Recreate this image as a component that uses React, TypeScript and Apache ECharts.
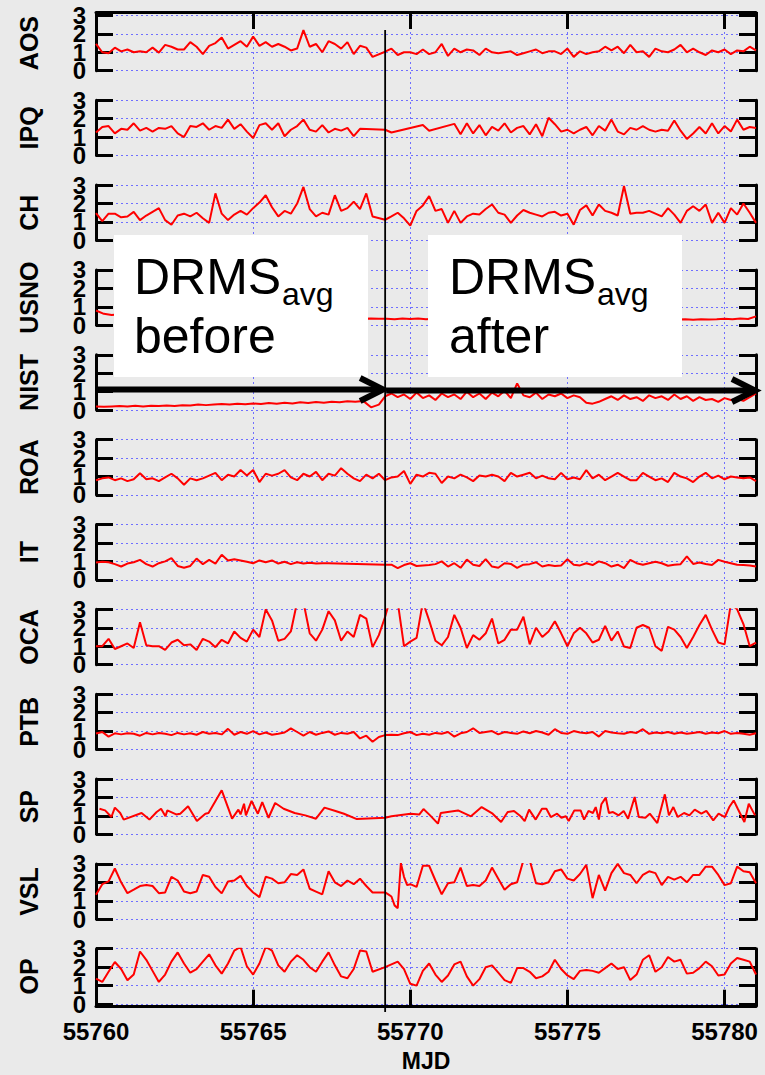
import React, { useEffect, useRef } from "react";
import * as echarts from "echarts";

// [start offset in days from X_MIN, step in days, values]
type Seg = [number, number, number[]];

const X_MIN = 55760;
const X_MAX = 55781;
const X_INTERVAL = 5;
const Y_MIN = 0;
const Y_MAX = 3;
const Y_LABELS_EVEN = [0, 2];
const Y_LABELS_ODD = [1, 3];
const STEP_MJD = 55769.2;
const X_NAME = "MJD";
const STATIONS = ["AOS", "IPQ", "CH", "USNO", "NIST", "ROA", "IT", "OCA", "PTB", "SP", "VSL", "OP"];
const BOX_TITLE = "DRMS";
const BOX_SUB = "avg";
const BOX_LEFT_WORD = "before";
const BOX_RIGHT_WORD = "after";

const AOS_A = [1.45,1.0,0.95,1.25,1.05, 1.15,1.0,1.05,1.0,1.25, 0.98,1.4,1.3,1.15,1.15, 1.55,1.3,0.9,1.35,1.5, 1.8,1.2,1.4,1.6,1.3, 1.85,1.35,1.55,1.3,1.45, 1.3,1.1,1.2,2.2,1.3, 1.45,1.0,1.6,1.45,1.2, 1.55,0.9,1.35,1.25,0.75];
const AOS_B = [1.03,1.2,0.85,1.0,1.0, 0.9,1.15,0.9,1.0,1.45, 0.8,1.2,1.0,1.15,1.1, 0.85,1.2,1.0,0.95,1.0, 1.05,0.85,0.95,1.05,1.15, 0.95,1.05,1.05,0.9,1.2, 0.75,1.05,0.9,1.0,1.05, 1.3,1.1,1.3,0.95,1.4, 1.0,1.05,0.75,1.2,1.05, 1.0,1.15,1.4,1.0,1.2, 1.0,0.85,1.1,1.0,1.15, 0.9,1.1,1.05,1.3,1.1];

const IPQ_A = [1.25,1.55,1.6,1.2,1.45, 1.4,1.75,1.35,1.5,1.3, 1.5,1.45,1.6,1.2,1.0, 1.6,1.55,1.75,1.4,1.6, 1.5,1.95,1.45,1.7,1.3, 0.95,1.65,1.75,1.4,1.75, 1.05,1.4,1.6,1.95,1.4, 1.3,1.65,1.25,1.45,1.35, 1.5,1.05,1.45];
const IPQ_GAP1 = [1.4, 1.25];
const IPQ_GAP2 = [1.66, 1.35];
const IPQ_B = [1.72,1.15,1.75,1.2,1.65, 1.1,1.55,1.35,1.75,1.25, 1.5,1.6,1.15,1.7,1.05, 2.05,1.7,1.3,1.4,1.2, 1.4,1.55,1.1,1.6,1.35, 1.95,1.3,1.15,1.5,1.4, 1.6,1.4,1.3,1.4,1.35, 1.9,1.35,0.9,1.2,1.55, 1.2,1.75,1.2,1.6,1.3, 1.95,1.4,1.55,1.5];

const CH_A = [1.48,1.05,1.45,1.45,1.25, 1.3,1.55,1.1,1.35,1.55, 1.75,1.1,0.85,1.35,1.45, 1.3,1.5,1.2,0.95,2.55, 1.45,1.1,1.4,1.6,1.4, 1.75,2.05,2.45,1.8,1.3, 1.6,1.45,2.0,2.9,1.7, 1.3,1.5,1.4,2.45,1.6, 1.75,2.1,1.7,2.55,1.3];
const CH_B = [1.12,1.3,1.5,1.2,0.8, 1.6,1.9,2.4,1.6,1.7, 0.95,1.6,0.95,1.3,1.45, 1.4,1.7,1.95,1.5,1.4, 0.95,1.35,1.65,1.5,1.4, 1.3,1.5,1.55,1.35,1.45, 0.85,1.65,1.9,1.35,1.95, 1.6,1.5,1.35,2.95,1.45, 1.5,1.5,1.6,1.45,1.3, 1.75,1.4,0.95,1.6,1.85, 1.6,1.95,0.95,1.5,0.95, 1.75,1.4,2.0,1.5,0.95];

const USNO_A = [0.8,0.62,0.55,0.6,0.5, 0.52,0.48,0.5,0.46,0.48, 0.45,0.47,0.44,0.46,0.42, 0.44,0.42,0.43,0.4,0.42, 0.4,0.41,0.39,0.4,0.38, 0.4,0.38,0.39,0.37,0.38, 0.36,0.37,0.36,0.36,0.35, 0.36,0.35,0.35,0.33,0.36, 0.34,0.37,0.33,0.35,0.34, 0.33,0.35,0.33,0.34,0.32, 0.35,0.33,0.34,0.32,0.33, 0.34,0.32,0.33,0.35,0.32, 0.34,0.33,0.32,0.34,0.33, 0.31,0.33,0.32,0.34,0.31, 0.33,0.32,0.3,0.33,0.31, 0.32,0.3,0.33,0.31,0.32, 0.35,0.33,0.36,0.34,0.48];

const NIST_A = [0.2,0.18,0.2,0.22,0.2, 0.23,0.2,0.24,0.22,0.25, 0.22,0.26,0.25,0.3,0.27, 0.3,0.33,0.3,0.35,0.32, 0.36,0.33,0.38,0.35,0.4, 0.36,0.42,0.38,0.44,0.4, 0.45,0.42,0.48,0.45,0.5, 0.15,0.3];
const NIST_B = [0.75,0.9,0.7,0.85,0.6, 0.95,0.65,0.8,0.55,0.9, 0.7,0.85,0.6,1.0,0.7, 0.9,0.6,0.95,0.75,1.05, 0.65,1.45,0.8,0.7,0.95, 0.6,0.85,0.75,0.9,0.65, 0.8,0.7,0.4,0.35,0.45, 0.6,0.75,0.55,0.8,0.6, 0.7,0.5,0.8,0.65,0.75, 0.55,0.85,0.6,0.75,0.5, 0.7,0.55,0.6,0.45,0.65, 0.55,0.6,0.5,0.7,0.9];

const ROA_A = [0.8,0.9,0.95,0.8,0.9, 0.75,0.85,1.18,0.85,0.9, 0.75,0.95,1.15,0.9,0.55, 0.9,0.8,0.9,1.05,1.2, 0.8,1.1,1.0,1.35,1.05, 1.35,0.7,1.15,1.05,1.15, 1.35,0.95,0.8,1.15,1.0, 1.25,0.8,1.15,1.05,1.45, 1.15,0.9,0.75,1.1,0.9, 1.15,0.8,0.95,1.0,1.3, 0.6,1.1,1.0,1.2,1.15, 0.65,1.0,0.9,1.1,0.95, 0.75,1.05,1.0,1.1,1.0, 0.75,1.2,1.0,1.1,1.2, 0.9,1.05,0.9,0.85,1.2, 0.85,0.95,0.85,1.35,0.9, 1.1,0.8,1.0,1.2,1.0, 0.8,0.8,1.2,1.0,0.8, 0.9,0.7,1.2,1.0,0.9, 0.7,1.0,1.2,0.9,1.05, 0.85,1.0,0.95,0.9,0.95, 0.75];

const IT_A = [0.94,0.98,0.95,0.85,0.72, 0.88,0.95,1.08,0.85,0.72, 0.9,1.0,1.18,0.75,0.65, 0.75,1.15,0.85,1.08,0.88, 1.36,1.05,1.12,1.05,0.98, 0.9,1.05,0.95,1.05,0.88, 0.98,0.85,0.95,0.88,0.92, 0.88,0.9,0.9];
const IT_B = [0.81,0.82,0.63,0.8,0.9, 0.75,0.78,0.8,0.85,1.0, 0.72,0.9,0.65,1.1,0.82, 0.75,1.12,0.72,0.65,0.9, 0.86,0.65,0.82,0.85,0.95, 0.72,0.8,0.75,0.78,1.12, 0.82,0.78,0.9,0.8,1.0, 0.9,0.72,0.82,0.63,1.08, 0.9,0.82,0.9,0.98,0.9, 0.76,0.82,0.85,1.27,0.86, 0.94,0.86,0.8,1.08,0.98, 0.9,0.82,0.8,0.78,0.72];

const OCA_A = [1.0,1.0,1.4,0.85,1.0, 1.15,0.9,2.3,1.05,1.0, 1.0,0.8,1.2,1.35,1.05, 1.1,0.8,1.4,1.25,0.95, 1.35,1.15,1.8,1.45,1.25, 1.9,1.5,3.0,2.4,1.3, 1.4,1.8,3.4,3.4,1.7, 1.3,1.9,2.9,2.4,1.3, 1.8,1.5,2.7,2.5,0.95, 1.6,2.6,3.8,3.4,1.0, 1.25,1.45,3.4,2.4,1.3, 1.05,1.5,2.7,2.0,0.9, 1.6,1.35,1.7,2.5,1.15, 1.35,1.9,1.9,2.6,1.1, 2.0,1.5,1.8,2.35,1.7, 1.0,1.7,2.0,1.7,1.2, 1.35,2.1,1.3,1.8,0.98, 0.9,2.0,2.15,2.0,1.0, 0.75,2.05,1.9,1.5,0.9, 1.5,2.15,2.7,1.9,1.2, 1.1,3.3,3.0,2.2,1.0,1.2];

const PTB_A = [0.87,0.95,0.7,0.88,0.82, 0.88,0.85,0.75,0.9,0.82, 0.9,0.85,0.78,0.9,0.82, 0.88,0.8,0.95,0.85,0.9, 0.82, 1.12,0.8,0.95,0.85,1.0, 0.82,0.92,0.8,0.85,0.92, 1.15,0.95,0.75,0.95,0.8, 0.9,0.98,0.8,0.9,0.85, 0.95,0.6,0.75,0.42,0.68,0.78, 0.8,0.78,0.88,0.95,0.78, 0.85,0.8,0.9,0.85,0.95, 0.7,0.88,0.95,1.15,0.9, 0.95,1.0,0.82,0.95,0.9, 0.85,0.98,0.88,1.0,0.92, 0.8,1.1,0.9,0.85,1.0, 0.92,0.88,0.95,0.7,1.0, 0.92,0.88,0.85,0.95,0.9, 1.1,0.85,0.92,0.88,0.95, 0.85,0.92,0.85,0.9,0.95, 0.85,0.92,0.88,1.0,0.85, 0.9,0.85,0.8,0.88];

const SP_DAYS = [0.11,0.29,0.49,0.6,0.77,0.88,1.45,1.7,1.93,2.07, 2.21,2.27,2.55,2.68,2.93,3.21,3.48,3.58,4.0,4.33, 4.53,4.6,4.71,4.77,4.95,5.15,5.29,5.49,5.7,5.97, 6.32,6.66,7.0,7.27,7.62,7.89,8.3,9.2,9.4,10.01, 10.29,10.42,10.63,10.88,10.97,11.52,11.93,12.27,12.62,12.75, 12.89,13.1,13.3,13.51,13.64,13.78,13.99,14.19,14.33,14.47, 14.67,14.81,14.95,15.04,15.22,15.42,15.53,15.67,15.81,15.9, 16.0,16.08,16.22,16.32,16.45,16.63,16.79,16.93,17.14,17.27, 17.48,17.62,17.86,18.1,18.23,18.37,18.51,18.71,18.88,19.05, 19.26,19.42,19.64,19.81,20.01,20.15,20.29,20.42,20.63,20.77, 20.97];
const SP_VALS = [1.39,1.30,0.94,1.45,1.16,0.80,1.16,0.80,1.21,1.39, 0.98,1.30,1.08,1.12,1.52,0.72,1.12,1.16,2.39,0.85, 1.34,1.08,1.66,1.03,1.81,1.12,1.75,0.90,1.70,1.39, 1.16,1.03,0.85,1.45,1.27,1.12,0.83,0.90,0.98,1.12, 1.08,1.37,1.03,0.58,1.16,1.30,0.98,1.48,1.12,0.90, 0.67,1.21,1.27,0.98,0.72,1.34,0.80,1.39,1.39,0.94, 1.12,0.90,0.98,0.72,1.30,1.30,0.80,1.27,1.16,1.48, 0.80,1.63,1.99,1.16,1.21,1.03,1.27,0.85,2.03,0.94, 0.90,1.12,0.61,2.17,1.03,1.48,0.94,1.16,1.03,1.34, 1.12,1.27,0.76,1.12,0.94,1.48,1.84,1.39,0.67,1.66, 1.03];

const VSL_A = [1.32,1.9,2.05,2.75,2.0, 1.41,1.6,1.8,1.85,1.8, 1.41,1.45,2.3,2.1,1.5, 1.41,1.5,2.4,2.3,1.75, 1.4,2.05,2.1,2.35,1.8, 1.45,1.2,2.3,2.2,1.95, 2.0,2.45,2.4,2.7,1.65, 1.5,1.35,2.6,2.0,1.8, 2.1,1.9,2.2,1.8,1.45];
const VSL_DIP = [1.45,1.35,1.23,0.75,0.6,3.05,2.3,1.85];
const VSL_B = [1.9,1.75,2.9,2.9,2.1, 1.35,1.95,2.0,2.8,1.8, 1.85,1.8,2.1,2.8,2.2, 1.6,1.9,2.0,3.2,3.2, 1.95,1.9,2.0,2.6,2.7, 2.2,2.1,2.45,2.95,1.14, 2.4,1.55,2.5,3.0,2.5, 2.4,1.95,2.4,2.6,2.5, 1.85,2.3,2.15,2.3,2.0, 2.4,2.4,2.85,2.85,2.4, 1.85,1.95,2.85,2.6,2.55, 1.95];

const OP_A = [1.38,1.2,1.75,2.28,1.9, 1.29,1.6,2.85,2.4,1.8, 1.2,1.6,2.3,2.8,2.2, 1.7,1.9,2.3,2.7,2.1, 1.65,2.2,2.9,3.1,2.05, 1.6,2.2,3.1,2.9,2.1, 1.75,2.3,2.65,2.4,2.0, 1.75,2.3,2.8,2.1,1.5, 1.4,1.9,2.9,2.85,1.75];
const OP_GAP = [2.0, 2.3];
const OP_B = [1.9,1.1,1.0,1.8,2.2, 1.6,1.2,1.55,2.15,2.3, 1.5,1.0,1.35,2.0,2.1, 1.7,1.3,1.15,1.95,1.95, 1.75,1.4,1.5,1.75,2.4, 1.9,1.55,1.35,1.8,1.85, 1.8,1.7,1.95,2.2,1.9, 2.0,1.3,1.6,2.4,2.65, 1.75,2.0,2.55,2.3,2.4, 1.65,1.7,1.95,2.3,2.05, 1.55,1.6,2.2,2.5,2.4, 2.3,1.6];

const SEGMENTS: Record<string, Seg[]> = {
  AOS: [[0, 0.2, AOS_A], [9.2, 0.2, AOS_B]],
  IPQ: [[0, 0.2, IPQ_A], [9.2, 0.2, IPQ_GAP1], [10.4, 0.2, IPQ_GAP2], [11.4, 0.2, IPQ_B]],
  CH: [[0, 0.2, CH_A], [9.2, 0.2, CH_B]],
  USNO: [[0, 0.25, USNO_A]],
  NIST: [[0, 0.25, NIST_A], [9.2, 0.2, NIST_B]],
  ROA: [[0, 0.2, ROA_A]],
  IT: [[0, 0.2, IT_A], [9.2, 0.2, IT_B]],
  OCA: [[0, 0.2, OCA_A]],
  PTB: [[0, 0.2, PTB_A]],
  VSL: [[0, 0.2, VSL_A], [9.2, 0.1, VSL_DIP], [10.0, 0.2, VSL_B]],
  OP: [[0, 0.2, OP_A], [9.2, 0.4, OP_GAP], [9.8, 0.2, OP_B]],
};

function buildData(name: string): [number, number][] {
  if (name === "SP") return SP_DAYS.map((d, i) => [X_MIN + d, SP_VALS[i]]);
  const out: [number, number][] = [];
  for (const [start, step, vals] of SEGMENTS[name]) {
    vals.forEach((v, i) => out.push([+(X_MIN + start + i * step).toFixed(3), v]));
  }
  return out;
}

// layout
const W = 765;
const H = 1075;
const PLOT_LEFT = 96;
const PLOT_RIGHT = 756;
const PANEL_TOP0 = 15.4;
const PANEL_PITCH = 84.85;
const PANEL_H = 55.3;
const FRAME_TOP = 12;
const FRAME_BOTTOM = 1006.7;
const FONT = "Liberation Sans, Arial, Helvetica, sans-serif";
const BG = "#eaeaea";
const GRID_BLUE = "#6f6fff";

export default function App() {
  const ref = useRef<HTMLDivElement>(null);
  useEffect(() => {
    if (!ref.current) return;
    const chart = echarts.init(ref.current, undefined, { renderer: "svg" });
    const n = STATIONS.length;
    const grids: any[] = [];
    const xAxes: any[] = [];
    const yAxes: any[] = [];
    const series: any[] = [];
    const blackAxisLine = { show: true, onZero: false, lineStyle: { color: "#000", width: 3 } };
    const blackTick = { show: true, inside: true, length: 17, lineStyle: { color: "#000", width: 3 } };
    const dotted = {
      show: true,
      showMinLine: true,
      showMaxLine: true,
      lineStyle: { color: GRID_BLUE, width: 1, type: [2, 3] },
    };
    const yLabelStyle = {
      color: "#000",
      fontWeight: "bold",
      fontSize: 24,
      fontFamily: FONT,
      margin: 10,
      showMinLabel: true,
      showMaxLabel: true,
      hideOverlap: false,
    };
    STATIONS.forEach((name, i) => {
      grids.push({
        left: PLOT_LEFT,
        right: W - PLOT_RIGHT,
        top: PANEL_TOP0 + PANEL_PITCH * i,
        height: PANEL_H,
        containLabel: false,
        outerBoundsMode: "none",
      });
      xAxes.push({ type: "value", gridIndex: i, min: X_MIN, max: X_MAX, show: false });
      // main left axis: line, ticks, grid, labels 0 & 2, station name
      yAxes.push({
        type: "value",
        gridIndex: i,
        position: "left",
        min: Y_MIN,
        max: Y_MAX,
        interval: 1,
        axisLine: blackAxisLine,
        axisTick: blackTick,
        splitLine: dotted,
        axisLabel: { ...yLabelStyle, customValues: Y_LABELS_EVEN },
        name,
        nameLocation: "middle",
        nameRotate: 90,
        nameGap: 55,
        nameTextStyle: { color: "#000", fontWeight: "bold", fontSize: 25, fontFamily: FONT },
      });
      // second left axis: labels 1 & 3 only (overlapping labels as in the original)
      yAxes.push({
        type: "value",
        gridIndex: i,
        position: "left",
        offset: 0,
        min: Y_MIN,
        max: Y_MAX,
        interval: 1,
        axisLine: { show: false, onZero: false },
        axisTick: { show: false },
        splitLine: { show: false },
        axisLabel: { ...yLabelStyle, customValues: Y_LABELS_ODD },
      });
      // right axis: line and ticks
      yAxes.push({
        type: "value",
        gridIndex: i,
        position: "right",
        min: Y_MIN,
        max: Y_MAX,
        interval: 1,
        axisLine: blackAxisLine,
        axisTick: blackTick,
        splitLine: { show: false },
        axisLabel: { show: false },
      });
      series.push({
        type: "line",
        name,
        xAxisIndex: i,
        yAxisIndex: 3 * i,
        data: buildData(name),
        showSymbol: false,
        symbol: "none",
        clip: true,
        silent: true,
        z: 3,
        lineStyle: { color: "#ff0000", width: 2 },
      });
    });
    // frame grid for the shared MJD axis
    grids.push({
      left: PLOT_LEFT,
      right: W - PLOT_RIGHT,
      top: FRAME_TOP,
      height: FRAME_BOTTOM - FRAME_TOP,
      containLabel: false,
      outerBoundsMode: "none",
    });
    const fg = n;
    xAxes.push({
      type: "value",
      gridIndex: fg,
      position: "bottom",
      min: X_MIN,
      max: X_MAX,
      interval: X_INTERVAL,
      axisLine: blackAxisLine,
      axisTick: blackTick,
      splitLine: { ...dotted, showMinLine: false, showMaxLine: false },
      axisLabel: {
        color: "#000",
        fontWeight: "bold",
        fontSize: 24,
        fontFamily: FONT,
        margin: 13,
        formatter: (v: number) => (v % X_INTERVAL === 0 ? String(v) : ""),
      },
      name: X_NAME,
      nameLocation: "middle",
      nameGap: 43,
      nameTextStyle: { color: "#000", fontWeight: "bold", fontSize: 23, fontFamily: FONT },
    });
    xAxes.push({
      type: "value",
      gridIndex: fg,
      position: "top",
      min: X_MIN,
      max: X_MAX,
      interval: X_INTERVAL,
      axisLine: blackAxisLine,
      axisTick: blackTick,
      splitLine: { show: false },
      axisLabel: { show: false },
    });
    yAxes.push({ type: "value", gridIndex: fg, min: 0, max: 1, show: false });

    chart.setOption({
      animation: false,
      backgroundColor: BG,
      grid: grids,
      xAxis: xAxes,
      yAxis: yAxes,
      series,
    });

    const px = (v: number) => chart.convertToPixel({ xAxisIndex: n }, v) as number;
    const xStep = px(STEP_MJD);
    const xStart = px(X_MIN);
    const xEnd = px(X_MAX);
    const arrowY1 = 389.5;
    const arrowY2 = 390.5;
    const head = 23;
    const half = 11.5;
    const textBlock = (x: number, word: string) => [
      { type: "text", z: 20, x, y: 276.7, style: { text: BOX_TITLE, font: `50px ${FONT}`, fill: "#000", verticalAlign: "middle" } },
      { type: "text", z: 20, x: x + 148, y: 294, style: { text: BOX_SUB, font: `32px ${FONT}`, fill: "#000", verticalAlign: "middle" } },
      { type: "text", z: 20, x, y: 336, style: { text: word, font: `50px ${FONT}`, fill: "#000", verticalAlign: "middle" } },
    ];
    chart.setOption({
      graphic: [
        { type: "rect", z: 19, shape: { x: 114, y: 235, width: 254, height: 142 }, style: { fill: "#fff" } },
        { type: "rect", z: 19, shape: { x: 428, y: 235, width: 254, height: 142 }, style: { fill: "#fff" } },
        ...textBlock(134, BOX_LEFT_WORD),
        ...textBlock(449, BOX_RIGHT_WORD),
        { type: "line", z: 21, shape: { x1: xStep, y1: 30, x2: xStep, y2: 1012 }, style: { stroke: "#000", lineWidth: 1.8 } },
        { type: "line", z: 22, shape: { x1: xStart + 1, y1: arrowY1, x2: xStep - 3, y2: arrowY1 }, style: { stroke: "#000", lineWidth: 6 } },
        { type: "polyline", z: 22, shape: { points: [[xStep - 2 - head, arrowY1 - half], [xStep - 2, arrowY1], [xStep - 2 - head, arrowY1 + half]] }, style: { stroke: "#000", lineWidth: 6, fill: "none", lineJoin: "miter" } },
        { type: "line", z: 22, shape: { x1: xStep + 1, y1: arrowY2, x2: xEnd - 2, y2: arrowY2 }, style: { stroke: "#000", lineWidth: 6 } },
        { type: "polyline", z: 22, shape: { points: [[xEnd - 1 - head, arrowY2 - half], [xEnd - 1, arrowY2], [xEnd - 1 - head, arrowY2 + half]] }, style: { stroke: "#000", lineWidth: 6, fill: "none", lineJoin: "miter" } },
      ],
    });
    return () => chart.dispose();
  }, []);
  return (
    <div
      ref={ref}
      style={{ position: "fixed", left: 0, top: 0, width: W, height: H, background: BG }}
    />
  );
}
